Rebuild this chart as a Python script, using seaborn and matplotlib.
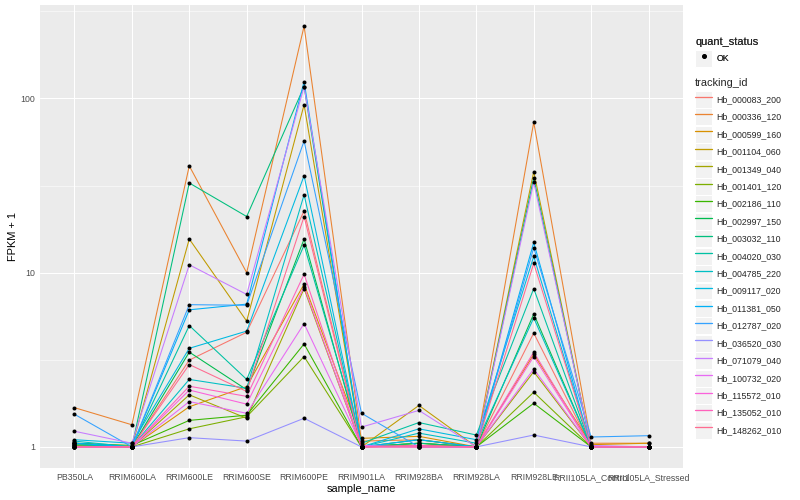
import numpy as np
import pandas as pd
import matplotlib
matplotlib.use('Agg')
import matplotlib.pyplot as plt
import seaborn as sns
from matplotlib.lines import Line2D
from matplotlib.patches import Rectangle
from matplotlib.ticker import FixedLocator, NullFormatter

# ── data ─────────────────────────────────────────────────────────────
samples = ['PB350LA', 'RRIM600LA', 'RRIM600LE', 'RRIM600SE', 'RRIM600PE',
           'RRIM901LA', 'RRIM928BA', 'RRIM928LA', 'RRIM928LE',
           'RRII105LA_Control', 'RRII105LA_Stressed']

tracking_ids = ['Hb_000083_200', 'Hb_000336_120', 'Hb_000599_160', 'Hb_001104_060',
                'Hb_001349_040', 'Hb_001401_120', 'Hb_002186_110', 'Hb_002997_150',
                'Hb_003032_110', 'Hb_004020_030', 'Hb_004785_220', 'Hb_009117_020',
                'Hb_011381_050', 'Hb_012787_020', 'Hb_036520_030', 'Hb_071079_040',
                'Hb_100732_020', 'Hb_115572_010', 'Hb_135052_010', 'Hb_148262_010']

# FPKM + 1, one value per sample (same order as samples)
hb_000083_200 = [1.00, 1.00, 3.15, 4.55, 22.6, 1.00, 1.02, 1.00, 4.50, 1.00, 1.00]
hb_000336_120 = [1.68, 1.34, 41.0, 10.0, 260., 1.08, 1.10, 1.00, 73.0, 1.05, 1.05]
hb_000599_160 = [1.02, 1.00, 1.70, 2.22, 8.60, 1.12, 1.15, 1.00, 3.40, 1.03, 1.05]
hb_001104_060 = [1.02, 1.00, 15.6, 5.27, 92.0, 1.00, 1.73, 1.00, 38.0, 1.00, 1.00]
hb_001349_040 = [1.05, 1.00, 1.99, 1.46, 8.10, 1.00, 1.05, 1.00, 2.70, 1.00, 1.00]
hb_001401_120 = [1.03, 1.00, 1.27, 1.49, 3.30, 1.00, 1.02, 1.00, 2.06, 1.00, 1.00]
hb_002186_110 = [1.05, 1.02, 1.42, 1.52, 3.90, 1.00, 1.05, 1.00, 1.78, 1.00, 1.00]
hb_002997_150 = [1.05, 1.00, 3.50, 2.13, 15.6, 1.00, 1.10, 1.00, 5.80, 1.00, 1.00]
hb_003032_110 = [1.05, 1.00, 32.7, 21.0, 117., 1.00, 1.05, 1.00, 35.0, 1.00, 1.00]
hb_004020_030 = [1.03, 1.00, 4.97, 2.44, 14.4, 1.05, 1.38, 1.17, 8.10, 1.00, 1.00]
hb_004785_220 = [1.08, 1.00, 2.44, 2.17, 28.0, 1.00, 1.20, 1.05, 5.50, 1.00, 1.00]
hb_009117_020 = [1.10, 1.05, 3.68, 4.62, 36.0, 1.00, 1.27, 1.10, 12.4, 1.00, 1.00]
hb_011381_050 = [1.05, 1.00, 6.12, 6.60, 125., 1.00, 1.10, 1.00, 14.9, 1.00, 1.00]
hb_012787_020 = [1.54, 1.00, 6.55, 6.50, 57.0, 1.56, 1.00, 1.00, 13.9, 1.14, 1.16]
hb_036520_030 = [1.00, 1.00, 1.13, 1.08, 1.46, 1.00, 1.00, 1.00, 1.17, 1.00, 1.00]
hb_071079_040 = [1.23, 1.05, 11.1, 7.50, 117., 1.30, 1.62, 1.00, 33.0, 1.02, 1.00]
hb_100732_020 = [1.00, 1.00, 1.82, 1.56, 5.10, 1.02, 1.00, 1.00, 2.80, 1.00, 1.00]
hb_115572_010 = [1.00, 1.00, 2.12, 1.76, 8.30, 1.00, 1.00, 1.00, 3.30, 1.00, 1.00]
hb_135052_010 = [1.00, 1.00, 2.23, 1.95, 9.80, 1.00, 1.02, 1.00, 3.50, 1.00, 1.00]
hb_148262_010 = [1.00, 1.00, 2.97, 2.08, 21.0, 1.00, 1.00, 1.00, 11.3, 1.00, 1.00]

series = [hb_000083_200, hb_000336_120, hb_000599_160, hb_001104_060, hb_001349_040,
          hb_001401_120, hb_002186_110, hb_002997_150, hb_003032_110, hb_004020_030,
          hb_004785_220, hb_009117_020, hb_011381_050, hb_012787_020, hb_036520_030,
          hb_071079_040, hb_100732_020, hb_115572_010, hb_135052_010, hb_148262_010]

# ggplot2 default hue palette, 20 levels
colors = ['#F8766D', '#EA8331', '#D89000', '#C09B00', '#A3A500', '#7CAE00', '#39B600',
          '#00BB4E', '#00BF7D', '#00C1A3', '#00BFC4', '#00BAE0', '#00B0F6', '#35A2FF',
          '#9590FF', '#C77CFF', '#E76BF3', '#FA62DB', '#FF62BC', '#FF6C91']

rows = []
for tid, vals in zip(tracking_ids, series):
    for s, v in zip(samples, vals):
        rows.append({'sample_name': s, 'fpkm1': v, 'tracking_id': tid})
df = pd.DataFrame(rows)
df['sample_name'] = pd.Categorical(df['sample_name'], categories=samples, ordered=True)
df['x'] = df['sample_name'].cat.codes

# ── style (ggplot grey look) ─────────────────────────────────────────
sns.set_style('darkgrid', {'axes.facecolor': '#EBEBEB', 'grid.color': 'white'})
plt.rcParams['font.family'] = ['Liberation Sans', 'DejaVu Sans']

fig = plt.figure(figsize=(800 / 72, 500 / 72), dpi=72)
ax = fig.add_axes([40 / 800, 32 / 500, 643 / 800, 463 / 500])

sns.lineplot(data=df, x='x', y='fpkm1', hue='tracking_id', hue_order=tracking_ids,
             palette=colors, sort=False, estimator=None, lw=1.07, legend=False, ax=ax)
sns.scatterplot(data=df, x='x', y='fpkm1', color='black', s=16, linewidth=0,
                legend=False, ax=ax, zorder=3)

ax.set_yscale('log')
ax.set_xlim(-0.6, len(samples) - 0.4)
ax.set_ylim(10 ** -0.121, 10 ** 2.536)
ax.set_xticks(range(len(samples)), labels=samples)
ax.set_yticks([1, 10, 100], labels=['1', '10', '100'])
ax.yaxis.set_minor_locator(FixedLocator([10 ** 0.5, 10 ** 1.5, 10 ** 2.5]))
ax.yaxis.set_minor_formatter(NullFormatter())
ax.grid(which='major', color='white', lw=1.07)
ax.grid(which='minor', axis='y', color='white', lw=0.53)
ax.tick_params(which='major', length=2.75, width=1.07, color='#333333',
               labelsize=8.8, labelcolor='#4D4D4D', pad=2)
ax.tick_params(which='minor', length=0)
for sp in ax.spines.values():
    sp.set_visible(False)
ax.set_xlabel('sample_name', fontsize=11, color='black', labelpad=2)
ax.set_ylabel('FPKM + 1', fontsize=11, color='black', labelpad=2)

# ── legends ─────────────────────────────────────────────────────────
key_bg = dict(fc='#F2F2F2', ec='white', lw=1)
leg_kw = dict(loc='upper left', frameon=False, fontsize=8.8, title_fontsize=11,
              alignment='left', handlelength=1.96, handleheight=2.59,
              handletextpad=0.45, labelspacing=0.05, borderpad=0, borderaxespad=0)

h1 = [(Rectangle((0, 0), 1, 1, **key_bg),
       Line2D([], [], ls='none', marker='o', color='black', ms=4))]
leg1 = fig.legend(handles=h1, labels=['OK'], title='quant_status',
                  bbox_to_anchor=(695 / 800, 1 - 37 / 500), **leg_kw)
leg1._legend_box.sep = 3
fig.add_artist(leg1)

h2 = [(Rectangle((0, 0), 1, 1, **key_bg), Line2D([], [], color=c, lw=1.3))
      for c in colors]
leg2 = fig.legend(handles=h2, labels=tracking_ids, title='tracking_id',
                  bbox_to_anchor=(695 / 800, 1 - 78 / 500), **leg_kw)
leg2._legend_box.sep = 3

fig.savefig('out.png', dpi=72, facecolor='white')
